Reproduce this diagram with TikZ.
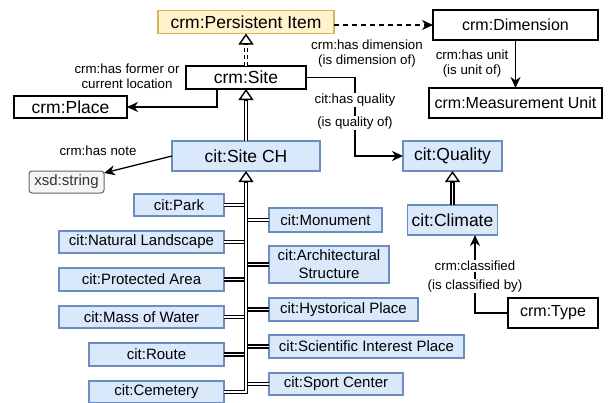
\documentclass[tikz,border=0pt]{standalone}
\usepackage{fontspec}
\setmainfont{Liberation Sans}
\usetikzlibrary{arrows.meta,calc}

\definecolor{bluefill}{HTML}{DAE8FC}
\definecolor{blueline}{HTML}{6C8EBF}
\definecolor{yelfill}{HTML}{FFF2CC}
\definecolor{yelline}{HTML}{D6B656}
\definecolor{greyfill}{HTML}{F5F5F5}
\definecolor{greyline}{HTML}{666666}
\definecolor{greytext}{HTML}{333333}

\newcommand\fsz[2]{\fontsize{#1pt}{#2pt}\selectfont}

\begin{document}
\begin{tikzpicture}[x=1pt, y=-1pt,
  box/.style={draw, line width=1.2pt, inner sep=0pt, outer sep=0pt, align=center, fill=white, font=\fsz{16}{19}},
  big/.style={box, font=\fsz{17.5}{21}},
  sub/.style={box, draw=blueline, fill=bluefill, font=\fsz{15}{18}},
  subbig/.style={sub, font=\fsz{17.5}{21}},
  rel/.style={line width=1.3pt, -{Stealth[length=11pt,width=10pt,inset=3.5pt]}},
  lbl/.style={font=\fsz{13.3}{15}, inner sep=1pt, align=center},
  dbl/.style={line width=1.3pt, double=white, double distance=1.7pt},
  head/.style={line width=1.4pt, -{Triangle[length=11pt,width=15pt,fill=white]}},
  dsh/.style={dash pattern=on 4pt off 3pt},
  longdsh/.style={dash pattern=on 5pt off 4pt}
]
\useasboundingbox (0,0) rectangle (608,402);

% classes of the upper part
\node[big, draw=yelline, fill=yelfill, minimum width=176pt, minimum height=23pt] (pers) at (246,22) {crm:Persistent Item};
\node[box, minimum width=165pt, minimum height=30pt] (dim) at (515.5,25) {crm:Dimension};
\node[box, minimum width=173pt, minimum height=30pt] (mu) at (515.5,103) {crm:Measurement Unit};
\node[big, minimum width=120pt, minimum height=23pt] (site) at (246,77.5) {crm:Site};
\node[big, minimum width=113pt, minimum height=22pt] (place) at (70.5,107) {crm:Place};
\node[subbig, minimum width=148pt, minimum height=30pt] (sitech) at (246,156) {cit:Site CH};
\node[box, rounded corners=3pt, draw=greyline, fill=greyfill, text=greytext, font=\fsz{15}{18}, line width=1pt, minimum width=75pt, minimum height=22pt] (xsd) at (66.5,182) {xsd:string};
\node[subbig, minimum width=99pt, minimum height=30pt] (quality) at (452.5,156) {cit:Quality};
\node[subbig, minimum width=90pt, minimum height=30pt] (climate) at (452.5,220) {cit:Climate};
\node[box, minimum width=90pt, minimum height=30pt] (type) at (553,313) {crm:Type};

% subclasses of cit:Site CH, left column
\node[sub, minimum width=90pt, minimum height=22pt] (park) at (179,205) {cit:Park};
\node[sub, minimum width=165pt, minimum height=22pt] (natland) at (141.5,242) {cit:Natural Landscape};
\node[sub, minimum width=165pt, minimum height=23pt] (protarea) at (141.5,279.5) {cit:Protected Area};
\node[sub, minimum width=165pt, minimum height=22pt] (mass) at (141.5,317) {cit:Mass of Water};
\node[sub, minimum width=135pt, minimum height=23pt] (route) at (156.5,354.5) {cit:Route};
\node[sub, minimum width=135pt, minimum height=22pt] (cemetery) at (156.5,392) {cit:Cemetery};

% subclasses of cit:Site CH, right column
\node[sub, minimum width=113pt, minimum height=24pt] (monument) at (325.5,220) {cit:Monument};
\node[sub, minimum width=120pt, minimum height=37pt] (archi) at (329,264.5) {cit:Architectural\\Structure};
\node[sub, minimum width=149pt, minimum height=23pt] (hyst) at (343.5,309.5) {cit:Hystorical Place};
\node[sub, minimum width=195pt, minimum height=23pt] (scien) at (366.5,346.5) {cit:Scientific Interest Place};
\node[sub, minimum width=134pt, minimum height=22pt] (sport) at (336,384) {cit:Sport Center};

% shared subclass trunk
\coordinate (trunk) at (246,0);
\foreach \n in {park,natland,protarea,mass,route}
  \draw[dbl] (\n.east) -- (\n.east -| trunk);
\foreach \n in {monument,archi,hyst,scien,sport}
  \draw[dbl] (\n.west -| trunk) -- (\n.west);
\draw[dbl, shorten >=10pt] (cemetery.east) -| (sitech.south);
\draw[head] ($(sitech.south)+(0,11)$) -- (sitech.south);

% subclass links
\draw[dbl, shorten >=10pt] (sitech.north) -- (site.south);
\draw[head] ($(site.south)+(0,11)$) -- (site.south);
\draw[dbl, shorten >=10pt] (climate.north) -- (quality.south);
\draw[head] ($(quality.south)+(0,11)$) -- (quality.south);
\draw[dbl, dsh, shorten >=10pt] (site.north) -- (pers.south);
\draw[head, dsh] ($(pers.south)+(0,11)$) -- (pers.south);

% properties
\coordinate (plcorner) at (217,107);
\draw[rel] (site.south -| plcorner) -- (plcorner) -- (place.east);
\node[lbl] (lformer) at (127,76) {crm:has former or\\current location};

\draw[rel] (sitech.west) -- ([yshift=9pt]xsd.east);
\node[lbl] (lnote) at (98,151) {crm:has note};

\draw[rel, longdsh] (pers.east |- dim.west) -- (dim.west);
\node[lbl] (ldim) at (367,54) {crm:has dimension\\(is dimension of)};

\draw[rel] (dim.south) -- (mu.north);
\node[lbl] (lunit) at (472,64) {crm:has unit\\(is unit of)};

\coordinate (qcorner) at (355,156);
\draw[rel] (site.east) -| (qcorner) -- (quality.west);
\node[lbl, fill=white] (lqual) at (355,100) {cit:has quality};
\node[lbl, fill=white] (lqualinv) at (355,123) {(is quality of)};

\coordinate (ccorner) at (475,235);
\draw[rel] (type.west) -| (ccorner);
\node[lbl, fill=white] (lclass) at (475,266) {crm:classified};
\node[lbl, fill=white] (lclassinv) at (475,286) {(is classified by)};
\end{tikzpicture}
\end{document}
